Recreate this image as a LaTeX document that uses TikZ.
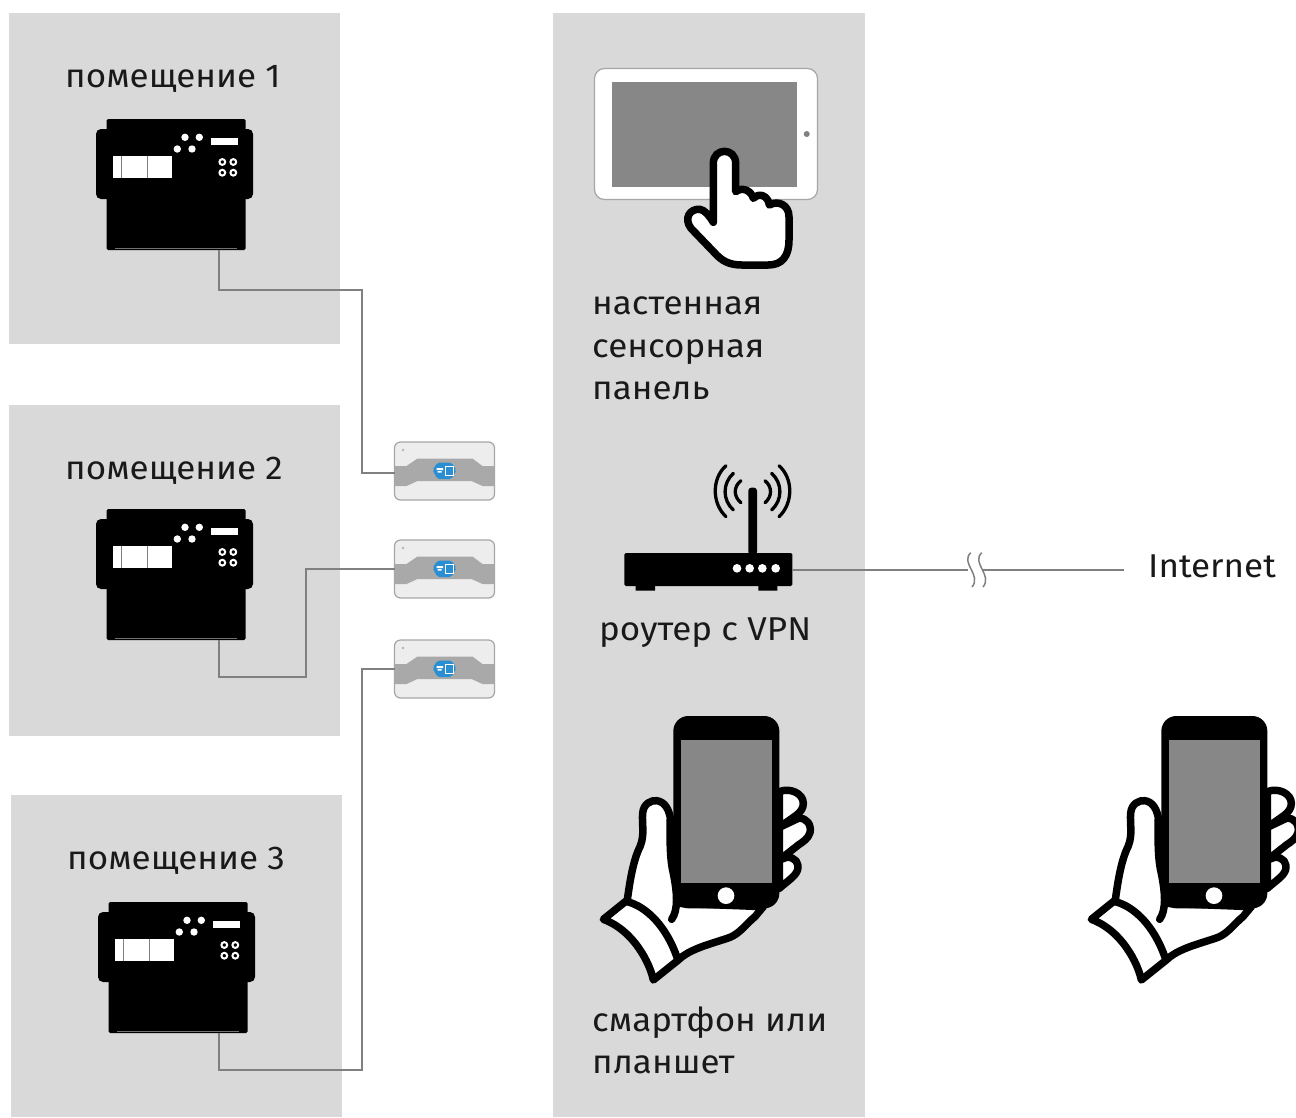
\documentclass[tikz,border=0pt]{standalone}
\usepackage{fontspec}
\setmainfont[FakeStretch=1.06]{Fira Sans}
\definecolor{panel}{HTML}{D9D9D9}
\definecolor{scr}{HTML}{878787}
\definecolor{wirec}{HTML}{808080}
\definecolor{bandc}{HTML}{A9A9A9}
\definecolor{boxc}{HTML}{EDEDED}
\definecolor{wifiblue}{HTML}{2A8FD2}
\tikzset{
 panelbox/.style={fill=panel,draw=none},
 wire/.style={draw=wirec,line width=1.7pt},
 lbl/.style={anchor=base west,inner sep=0pt,font=\fontsize{33}{33}\selectfont,text=black!90},
 handline/.style={draw=black,line width=7.5pt,line join=round,line cap=round,fill=white},
 wifibox/.style={draw=black!35,line width=1.2pt,fill=boxc,rounded corners=6pt,minimum width=100pt,minimum height=58pt,inner sep=0pt,outer sep=0pt},
 routerbody/.style={fill=black,rounded corners=1.5pt,minimum width=168pt,minimum height=33pt,inner sep=0pt,outer sep=0pt},
 ctrlbody/.style={fill=black,rounded corners=1.5pt,minimum width=139pt,minimum height=131pt,inner sep=0pt,outer sep=0pt},
 pics/ctrl/.style={code={
  \node[ctrlbody] (-body) at (176.2,184.5) {};
  \fill[black,rounded corners=5pt] (96,129) rectangle (253,199);
  \draw[black!55,line width=.8pt] (115,248.4) -- (236.7,248.4);
  \fill[white] (112.7,156) rectangle (172,178);
  \draw[black!50,line width=1pt] (121,156) -- (121,178) (147.3,156) -- (147.3,178);
  \fill[white] (185,137.3) circle (3.7) (199.3,137.3) circle (3.7) (177.3,149) circle (3.7) (192,149) circle (3.7);
  \fill[white] (210.7,138.3) rectangle (238.3,144.7);
  \foreach \a/\b in {222.3/162,233.3/162,222.3/172.7,233.3/172.7}{\draw[white,line width=2pt] (\a,\b) circle (2.9);}
 }},
 pics/wifi/.style={code={
  \fill[bandc] (-50,-5) -- (-38,-5) -- (-27,-12.5) -- (28,-12.5) -- (38,-5) -- (50,-5) -- (50,15) -- (38,15) -- (27,10) -- (-27,10) -- (-38,15) -- (-50,15) -- cycle;
  \fill[black!30] (-41.5,-21) circle (1.3);
  \fill[wifiblue,rounded corners=2pt] (-12,-1) -- (-7,-8.5) -- (7,-8.5) -- (12,-1) -- (7,8) -- (-7,8) -- cycle;
  \fill[white] (-8,-3) rectangle (-1.5,-1) (-7,0) rectangle (-3,1.5);
  \draw[white,line width=.8pt] (0.5,-4.5) rectangle (8.5,4);
 }},
 pics/hand/.style={code={
  \begin{scope}[xshift=590pt,yshift=-710pt,x=0.33333pt,y=-0.33333pt]
  \path[handline] (568,245) .. controls (600,232) and (640,250) .. (640,280) .. controls (640,295) and (632,305) .. (620,315) -- (568,352) -- cycle;
  \path[handline] (568,352) -- (625,325) .. controls (650,322) and (665,345) .. (660,368) .. controls (655,385) and (640,395) .. (625,405) -- (568,450) -- cycle;
  \path[handline] (568,450) -- (590,442) .. controls (615,440) and (630,460) .. (622,482) .. controls (615,500) and (590,515) .. (568,535) -- cycle;
  \path[handline] (158,310) .. controls (160,280) and (185,270) .. (200,272) .. controls (225,275) and (238,300) .. (242,330) -- (262,580) -- (520,590) -- (495,620) .. controls (470,640) and (450,670) .. (420,682) .. controls (370,700) and (300,715) .. (265,750) -- (190,810) .. controls (180,760) and (130,660) .. (40,628) -- (112,570) .. controls (120,510) and (130,450) .. (150,410) .. controls (165,375) and (155,340) .. (158,310) -- cycle;
  \draw[black,line width=7.5pt,line cap=round] (112,575) .. controls (170,590) and (230,650) .. (262,745);
  \fill[white] (225,400) rectangle (262,592);
  \draw[black,line width=7.5pt,line cap=round] (245,628) .. controls (265,600) and (262,550) .. (250,490) .. controls (240,450) and (240,400) .. (240,330);
  \fill[black,rounded corners=15pt] (250,18) rectangle (568,595);
  \fill[scr] (273,90) rectangle (546,518);
  \fill[white] (408,557) circle (25);
  \end{scope}
 }},
}
\begin{document}
\begin{tikzpicture}[x=1pt,y=-1pt]
\path[use as bounding box] (0,0) rectangle (1296,1117);
\clip (0,0) rectangle (1296,1117);
\fill[white] (0,0) rectangle (1296,1117);
\path[panelbox] (9,13) rectangle (340,344);
\path[panelbox] (9,405) rectangle (340,736);
\path[panelbox] (11,795) rectangle (342,1117);
\path[panelbox] (553,13) rectangle (865,1117);

\node[lbl] (t1) at (65,87) {помещение 1};
\node[lbl] (t2) at (65,479) {помещение 2};
\node[lbl] (t3) at (67,869) {помещение 3};
\pic (c1) at (0,0) {ctrl};
\pic (c2) at (0,390) {ctrl};
\pic (c3) at (2,783) {ctrl};
\coordinate (p1) at (219,250);
\coordinate (p2) at (219,640);
\coordinate (p3) at (219,1033);

\node[wifibox] (w1) at (444.5,471) {};
\node[wifibox] (w2) at (444.5,569) {};
\node[wifibox] (w3) at (444.5,669) {};
\pic at (w1.center) {wifi};
\pic at (w2.center) {wifi};
\pic at (w3.center) {wifi};

\coordinate (b1b) at (362,473);
\draw[wire] (p1) -- (219,290) -- (362,290) -- (b1b) -- (w1.west |- b1b);
\draw[wire] (p2) -- (219,677) -- (306,677) -- (306,569) -- (w2.west);
\draw[wire] (p3) -- (219,1070) -- (362,1070) -- (362,669) -- (w3.west);

% tablet
\node[draw=black!35,line width=1.2pt,fill=white,rounded corners=10pt,minimum width=223pt,minimum height=131pt,inner sep=0pt] (tablet) at (706,134) {};
\fill[scr] (612.3,81.7) rectangle (797.3,186.7);
\fill[black!50] (806.7,134) circle (3);
\begin{scope}[xshift=585pt,yshift=-60pt,x=0.33333pt,y=-0.33333pt]
\path[handline] (385,487) -- (385,310) .. controls (385,262) and (452,262) .. (452,310) -- (452,395)
 .. controls (475,378) and (500,395) .. (505,415) .. controls (525,395) and (550,410) .. (553,435)
 .. controls (580,420) and (612,435) .. (612,470) -- (612,540) .. controls (612,590) and (590,615) .. (550,615)
 -- (470,615) .. controls (430,615) and (410,600) .. (395,585) -- (318,505) .. controls (295,475) and (315,445) .. (345,448) .. controls (360,450) and (375,470) .. (385,487) -- cycle;
\end{scope}

\node[lbl] (tp1) at (592,314) {настенная};
\node[lbl] (tp2) at (592,357) {сенсорная};
\node[lbl] (tp3) at (592,399) {панель};

% router
\node[routerbody] (router) at (708.3,569.5) {};
\begin{scope}[xshift=615pt,yshift=-455pt,x=0.33333pt,y=-0.33333pt]
\fill[black] (62,380) rectangle (120,407) (430,380) rectangle (487,407);
\fill[black,rounded corners=3pt] (400,300) -- (400,98) -- (426,98) -- (426,300) -- cycle;
\fill[white] (366,340) circle (13) (404,340) circle (13) (442,340) circle (13) (482,340) circle (13);
\draw[black,line width=3.3pt,line cap=round]
 (333,32) .. controls (290,70) and (290,145) .. (333,185)
 (355,55) .. controls (322,85) and (322,135) .. (355,165)
 (378,77) .. controls (355,95) and (355,125) .. (378,143)
 (492,32) .. controls (535,70) and (535,145) .. (492,185)
 (470,55) .. controls (503,85) and (503,135) .. (470,165)
 (450,77) .. controls (472,95) and (472,125) .. (450,143);
\end{scope}
\node[lbl] (tr) at (599,640) {роутер с VPN};

\node[lbl] (inet) at (1148,577) {Internet};
\coordinate (bk1) at (968,570);
\coordinate (bk2) at (983,570);
\coordinate (bk3) at (1124,570);
\draw[wire] (router.east |- bk1) -- (bk1);
\draw[wire] (bk2) -- (bk3);
\draw[draw=wirec,line width=1.5pt] (970.7,552.7) .. controls (960,563) and (982,575) .. (972,587)
 (981.7,552.7) .. controls (971,563) and (993,575) .. (983,587);

\pic at (0,0) {hand};
\pic at (488,0) {hand};
\node[lbl] (ts1) at (592,1031) {смартфон или};
\node[lbl] (ts2) at (592,1073) {планшет};
\end{tikzpicture}
\end{document}
